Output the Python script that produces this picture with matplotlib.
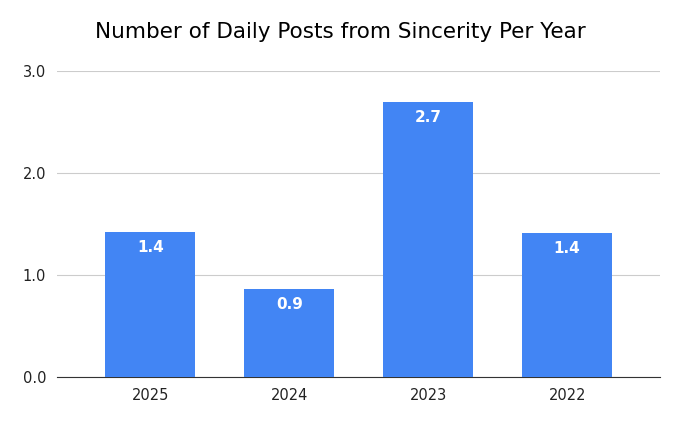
import matplotlib
matplotlib.use("Agg")
import matplotlib.pyplot as plt

years = ["2025", "2024", "2023", "2022"]
posts = [1.42, 0.86, 2.70, 1.41]
yticks = [0.0, 1.0, 2.0, 3.0]

fig = plt.figure(figsize=(6.8, 4.22), dpi=100)
ax = fig.add_axes([0.084, 0.1066, 0.887, 0.725])
x = list(range(len(years)))
bars = ax.bar(x, posts, width=0.65, color="#4285F4", zorder=3)
ax.set_xlim(-0.67, 3.67)
ax.set_ylim(0, 3.0)
ax.set_yticks(yticks)
ax.set_yticklabels([f"{v:.1f}" for v in yticks], fontsize=10.5, color="#222222")
ax.set_xticks(x)
ax.set_xticklabels(years, fontsize=10.5, color="#222222")
ax.grid(axis="y", color="#cccccc", linewidth=0.8, zorder=0)
for s in ["top", "right", "left"]:
    ax.spines[s].set_visible(False)
ax.spines["bottom"].set_color("#333333")
ax.tick_params(length=0, pad=8)
for xi, v in zip(x, posts):
    ax.text(xi, v - 0.08, f"{v:.1f}", ha="center", va="top", color="white",
            fontsize=11, fontweight="bold", zorder=4)
fig.text(0.5, 0.925, "Number of Daily Posts from Sincerity Per Year", ha="center",
         va="center", fontsize=15.5, color="#000000")
fig.savefig("out.png", dpi=100)
